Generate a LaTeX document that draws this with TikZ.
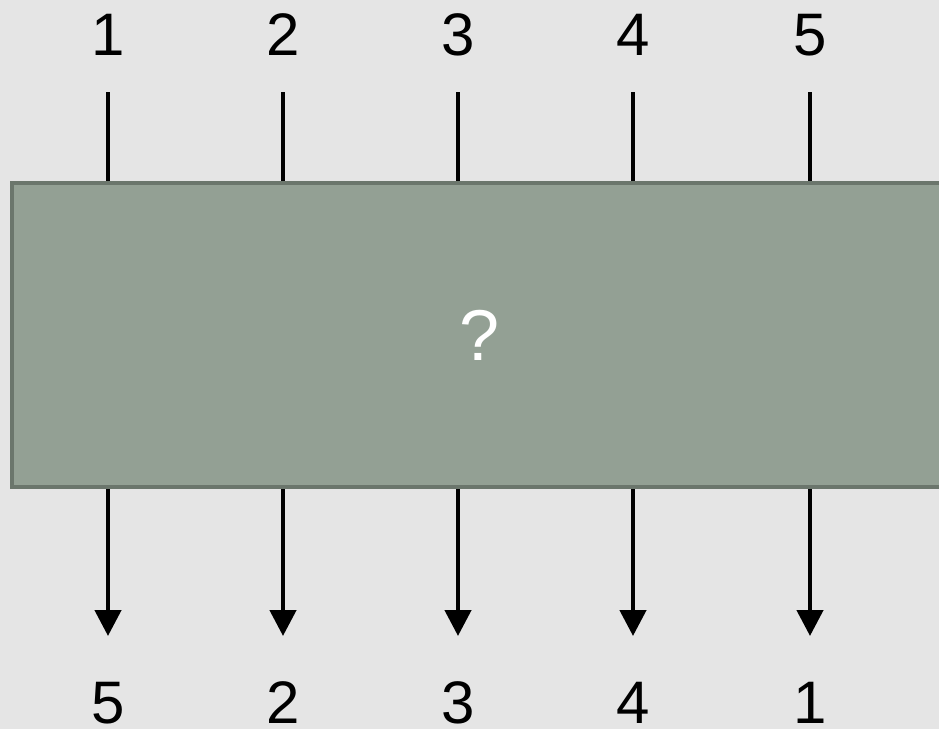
\documentclass[tikz,border=0pt]{standalone}
\usepackage{fontspec}
\setmainfont{Liberation Sans}
\usetikzlibrary{arrows.meta,positioning}
\definecolor{SlideGray}{HTML}{E5E5E5}
\definecolor{BoxFill}{HTML}{93A094}
\definecolor{BoxEdge}{HTML}{6B766C}

\begin{document}
\begin{tikzpicture}[
  x=1pt,y=-1pt,
  num/.style={font=\fontsize{60}{72}\selectfont,inner sep=0pt},
  box/.style={draw=BoxEdge,fill=BoxFill,line width=4pt,minimum width=936pt,minimum height=304pt,
    text=white,font=\fontsize{72}{86}\selectfont},
  wire/.style={line width=4.5pt},
  arrow/.style={wire,-{Triangle[length=26pt,width=26pt]}}
]
  \fill[SlideGray] (0,0) rectangle (939,729);
  \clip (0,0) rectangle (939,729);

  \node[box] (blackbox) at (480,335) {?};

  % inputs
  \node[num] (in1) at (108,35) {1};
  \node[num] (in2) at (283,35) {2};
  \node[num] (in3) at (458,35) {3};
  \node[num] (in4) at (633,35) {4};
  \node[num] (in5) at (810,35) {5};
  \coordinate (top1) at (108,92);
  \coordinate (top2) at (283,92);
  \coordinate (top3) at (458,92);
  \coordinate (top4) at (633,92);
  \coordinate (top5) at (810,92);

  % outputs
  \node[num] (out1) at (108,703) {5};
  \node[num] (out2) at (283,703) {2};
  \node[num] (out3) at (458,703) {3};
  \node[num] (out4) at (633,703) {4};
  \node[num] (out5) at (810,703) {1};
  \coordinate (bot1) at (108,636);
  \coordinate (bot2) at (283,636);
  \coordinate (bot3) at (458,636);
  \coordinate (bot4) at (633,636);
  \coordinate (bot5) at (810,636);

  \draw[wire] (top1) -- (top1 |- blackbox.north);
  \draw[wire] (top2) -- (top2 |- blackbox.north);
  \draw[wire] (top3) -- (top3 |- blackbox.north);
  \draw[wire] (top4) -- (top4 |- blackbox.north);
  \draw[wire] (top5) -- (top5 |- blackbox.north);

  \draw[arrow] (bot1 |- blackbox.south) -- (bot1);
  \draw[arrow] (bot2 |- blackbox.south) -- (bot2);
  \draw[arrow] (bot3 |- blackbox.south) -- (bot3);
  \draw[arrow] (bot4 |- blackbox.south) -- (bot4);
  \draw[arrow] (bot5 |- blackbox.south) -- (bot5);
\end{tikzpicture}
\end{document}
